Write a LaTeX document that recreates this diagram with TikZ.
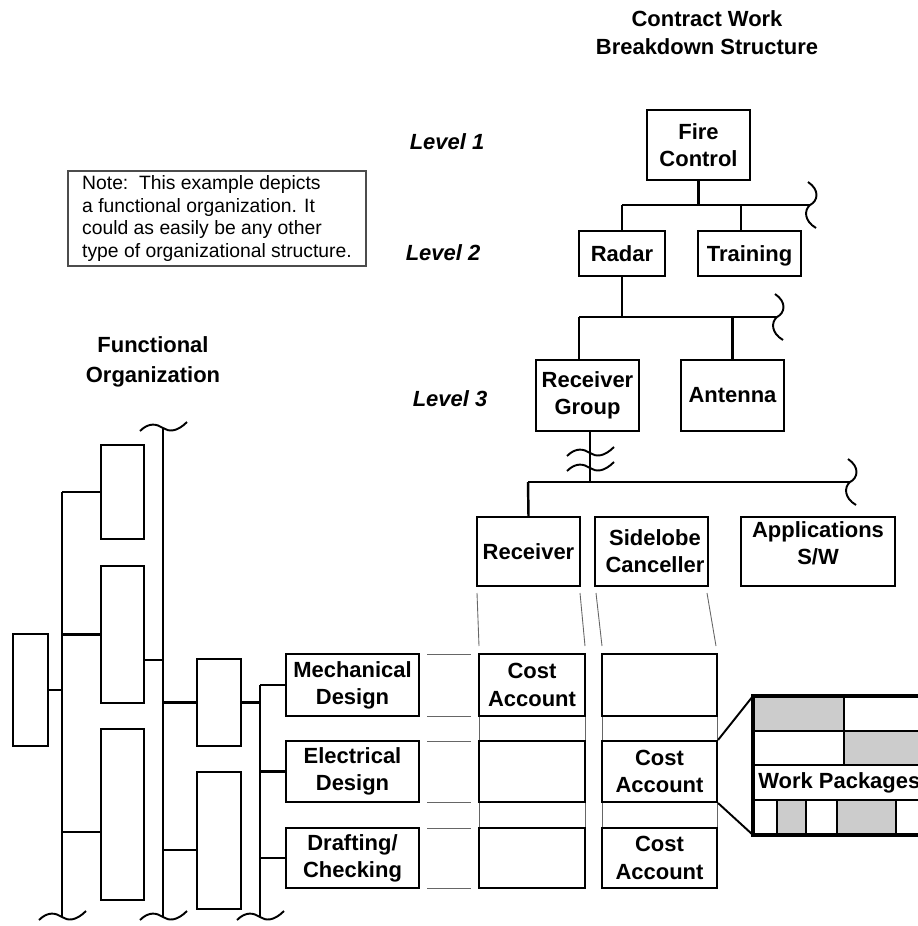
\documentclass[tikz,border=0pt]{standalone}
\usepackage{fontspec}
\setmainfont{Liberation Sans}
\usetikzlibrary{positioning}
\newcommand{\px}{0.02cm}
\definecolor{wpgray}{gray}{0.8}
\begin{document}
\begin{tikzpicture}[x=0.02cm, y=-0.02cm,
  wbsbox/.style 2 args={draw, line width=1.2pt, fill=white, align=center, inner sep=0pt,
    minimum width=#1*\px, minimum height=#2*\px,
    font=\bfseries\fontsize{12.5}{15.5}\selectfont},
  bus/.style={line width=1.4pt},
  guide/.style={line width=0.5pt, black!60},
  wpline/.style={line width=1.2pt},
  lvl/.style={font=\bfseries\itshape\fontsize{12.5}{15.5}\selectfont},
  heading/.style={align=center, font=\bfseries\fontsize{12.5}{16}\selectfont},
  vbreak/.pic={\draw[line width=1.1pt] (-2,-23) .. controls (10,-15) and (8,-4) .. (0,0)
    .. controls (-6,5) and (-6,16) .. (6,23);},
  hbreak/.pic={\draw[line width=1.1pt] (-23,3) .. controls (-14,-6) and (-6,-4) .. (0,0)
    .. controls (6,4) and (14,4) .. (24,-6);}]
\useasboundingbox (0,0) rectangle (917,926);
% titles
\node (cwbs) [heading] at (707,33) {Contract Work\\Breakdown Structure};
\node (forg) [heading, font=\bfseries\fontsize{12.5}{17}\selectfont] at (153,362) {Functional\\Organization};
\node (note) [draw=black!70, line width=0.6pt, minimum width=298*\px, minimum height=95*\px,
  align=left, inner sep=0pt, font=\fontsize{11}{13}\selectfont] at (217,218.5)
  {Note:\ \ This example depicts\\a functional organization. It\\could as easily be any other\\type of organizational structure.};
\node (lv1) [lvl] at (447,142) {Level 1};
\node (lv2) [lvl] at (443,253) {Level 2};
\node (lv3) [lvl] at (450,399) {Level 3};
% thin guide lines
\foreach \xa/\xb in {477/479, 580/585, 596/602, 707/716} {
    \draw [guide] (\xa,593) -- (\xb,646);
}
\foreach \y in {654,716,741,802,828,888} {
    \draw [guide] (427,\y) -- (471,\y);
}
\draw [guide] (479,654) -- (479,828);
\draw [guide] (585,654) -- (585,828);
\draw [guide] (602,654) -- (602,828);
\draw [guide] (717,654) -- (717,828);
% level 1 and 2
\node (fire) [wbsbox={103}{70}] at (698.5,145) {Fire\\Control};
\node (radar) [wbsbox={86}{45}, text depth=0pt] at (622,253.5) {Radar};
\node (training) [wbsbox={103}{45}, text depth=0pt] at (749.5,253.5) {Training};
\coordinate (b1w) at (622,205);
\coordinate (b1e) at (810,205);
\draw [bus] (b1w) -- (b1e);
\draw [bus] (fire.south) -- (fire.south |- b1w);
\draw [bus] (radar.north) -- (b1w);
\draw [bus] (training.north -| 741,0) -- (b1w -| 741,0);
\pic at (b1e) {vbreak};
% level 3
\node (rgroup) [wbsbox={103}{71}] at (587.5,395.5) {Receiver\\Group};
\node (antenna) [wbsbox={103}{71}] at (732.5,395.5) {Antenna};
\coordinate (b2w) at (579,317);
\coordinate (b2e) at (777,317);
\draw [bus] (b2w) -- (b2e);
\draw [bus] (radar.south) -- (radar.south |- b2w);
\draw [bus] (rgroup.north -| b2w) -- (b2w);
\draw [bus] (antenna.north) -- (antenna.north |- b2w);
\pic at (b2e) {vbreak};
% lower levels
\node (receiver) [wbsbox={103}{69}] at (528.5,551.5) {Receiver};
\node (sidelobe) [wbsbox={113}{69}] at (651.5,551.5) {\hspace*{0.14cm}Sidelobe\\\hspace*{0.14cm}Canceller};
\node (apps) [wbsbox={154}{69}, text depth=9.5pt] at (818,551.5) {Applications\\S/W};
\coordinate (b3w) at (528,482);
\coordinate (b3e) at (850,482);
\draw [bus] (b3w) -- (b3e);
\draw [bus] (rgroup.south -| 590,0) -- (b3w -| 590,0);
\draw [bus] (receiver.north) -- (b3w);
\pic at (590,453) {hbreak};
\pic at (590,468) {hbreak};
\pic at (b3e) {vbreak};
% cost accounts
\node (mech) [wbsbox={133}{62}] at (352.5,685) {Mechanical\\Design};
\node (elec) [wbsbox={133}{61}] at (352.5,771.5) {Electrical\\Design};
\node (draft) [wbsbox={133}{60}] at (352.5,858) {Drafting/\\Checking};
\node (ca11) [wbsbox={106}{62}] at (532,685) {Cost\\Account};
\node (ca21) [wbsbox={106}{61}] at (532,771.5) {};
\node (ca31) [wbsbox={106}{60}] at (532,858) {};
\node (ca12) [wbsbox={115}{62}] at (659.5,685) {};
\node (ca22) [wbsbox={115}{61}] at (659.5,771.5) {Cost\\Account};
\node (ca32) [wbsbox={115}{60}] at (659.5,858) {Cost\\Account};
% work packages
\coordinate (wpnw) at (753,696);
\coordinate (wpsw) at (753,835);
\fill [wpgray] (753,696) rectangle (844,731);
\fill [wpgray] (844,731) rectangle (925,765);
\fill [wpgray] (777,800) rectangle (806,835);
\fill [wpgray] (837,800) rectangle (896,835);
\draw [wpline] (753,731) -- (925,731);
\draw [wpline] (753,765) -- (925,765);
\draw [wpline] (753,800) -- (925,800);
\draw [wpline] (844,696) -- (844,765);
\foreach \x in {777,806,837,896} {
    \draw [wpline] (\x,800) -- (\x,835);
}
\draw [line width=1.8pt] (925,696) -- (wpnw) -- (wpsw) -- (925,835);
\node (wp) [anchor=west, inner sep=0pt, font=\bfseries\fontsize{12.5}{15.5}\selectfont] at (758,782.5) {Work Packages};
\draw [line width=1.1pt] (ca22.north east) -- (wpnw);
\draw [line width=1.1pt] (ca22.south east) -- (wpsw);
% functional organization
\node (A) [wbsbox={35}{112}] at (30.5,690) {};
\node (B1) [wbsbox={43}{94}] at (122.5,492) {};
\node (B2) [wbsbox={43}{137}] at (122.5,634.5) {};
\node (B3) [wbsbox={43}{171}] at (122.5,814.5) {};
\node (C1) [wbsbox={44}{87}] at (219,702.5) {};
\node (C2) [wbsbox={44}{137}] at (219,840.5) {};
\coordinate (oa) at (62,917);
\coordinate (obt) at (163,428);
\coordinate (ob) at (163,917);
\coordinate (oc) at (260,917);
\draw [bus] (B1.west -| oa) -- (oa);
\draw [bus] (A.east) -- (A.east -| oa);
\draw [bus] (B1.west) -- (B1.west -| oa);
\draw [bus] (B2.west) -- (B2.west -| oa);
\draw [bus] ([yshift=-0.35cm]B3.west) -- ([yshift=-0.35cm]B3.west -| oa);
\draw [bus] (obt) -- (ob);
\draw [bus] ([yshift=-0.51cm]B2.east) -- ([yshift=-0.51cm]B2.east -| ob);
\draw [bus] (C1.west) -- (C1.west -| ob);
\draw [bus] ([yshift=-0.19cm]C2.west) -- ([yshift=-0.19cm]C2.west -| ob);
\draw [bus] (mech.west -| oc) -- (oc);
\draw [bus] (C1.east) -- (C1.east -| oc);
\foreach \f in {mech,elec,draft} {
    \draw [bus] (\f.west) -- (\f.west -| oc);
}
\pic at (obt) {hbreak};
\pic at (oa) {hbreak};
\pic at (ob) {hbreak};
\pic at (oc) {hbreak};
\end{tikzpicture}
\end{document}
